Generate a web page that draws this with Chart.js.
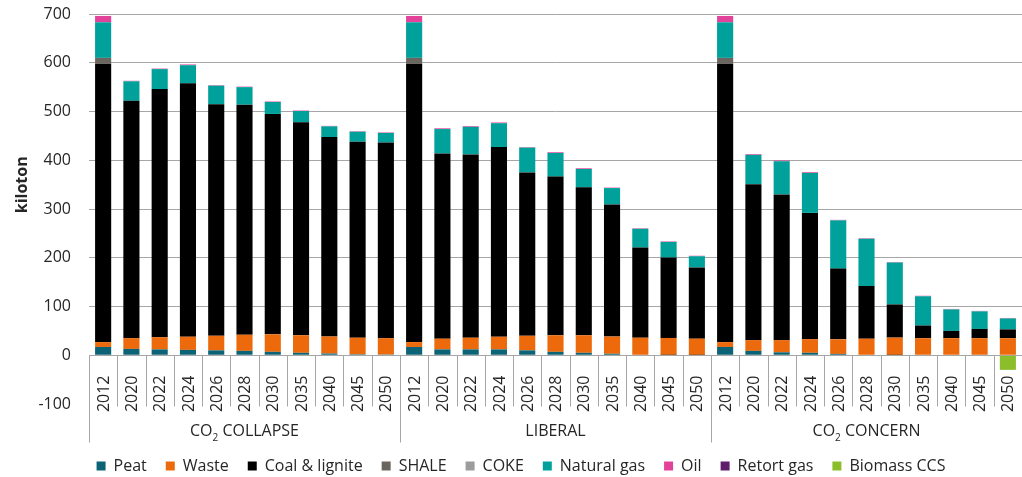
<!DOCTYPE html>
<html>
<head>
<meta charset="utf-8">
<script src="https://cdn.jsdelivr.net/npm/chart.js@4"></script>
<style>
  body { margin: 0; background: #fff; }
  #wrap { width: 1022px; height: 477px; }
</style>
</head>
<body>
<div id="wrap"><canvas id="chart" width="1022" height="477"></canvas></div>
<script>
// Dados
const scenarios = ["CO2 COLLAPSE", "LIBERAL", "CO2 CONCERN"]
const years = ["2012", "2020", "2022", "2024", "2026", "2028", "2030", "2035", "2040", "2045", "2050"]

const peat = [
  17, 13, 12, 11, 10, 9, 7, 5, 3.5, 2, 1.5,
  17, 12, 12, 12, 10, 7, 5, 3, 1, 0.5, 0.5,
  17, 9, 6, 5, 2.7, 1, 0.5, 0, 0, 0, 0,
]
const waste = [
  10, 22, 25, 27, 30, 33, 36, 36, 35, 34, 33.5,
  10, 22, 24, 26, 30, 34, 36, 35.4, 35, 35, 33.6,
  10, 22, 25, 28, 30, 33, 35.7, 35, 35, 35, 35,
]
const coal = [
  571, 487, 509, 520, 475, 472, 452, 437, 409, 402, 401.5,
  571, 380, 376, 389, 335, 325.5, 303.5, 271, 185, 165, 146,
  571, 320, 299, 259, 145, 108, 68, 26, 15, 19, 18,
]
const shale = [
  12, 0, 0, 0, 0, 0, 0, 0, 0, 0, 0,
  12, 0, 0, 0, 0, 0, 0, 0, 0, 0, 0,
  12, 0, 0, 0, 0, 0, 0, 0, 0, 0, 0,
]
const coke = [
  0, 0, 0, 0, 0, 0, 0, 0, 0, 0, 0,
  0, 0, 0, 0, 0, 0, 0, 0, 0, 0, 0,
  0, 0, 0, 0, 0, 0, 0, 0, 0, 0, 0,
]
const naturalGas = [
  73, 40, 41, 37, 38, 36, 24.5, 23, 22, 20.5, 19.5,
  73, 50, 56.5, 49, 51, 48.5, 37.5, 33.5, 38.4, 32, 23,
  73, 60, 68, 82, 99, 97, 86, 60, 44, 36, 22.5,
]
const oil = [
  13, 1, 1, 1.5, 1, 1, 1, 1, 1, 1, 1,
  13, 1.5, 1.5, 1.5, 1, 1.5, 1.5, 1, 1, 1, 1,
  13, 1.5, 1.5, 1.5, 1, 1, 1, 1, 1, 1, 1,
]
const retortGas = [
  0, 0, 0, 0, 0, 0, 0, 0, 0, 0, 0,
  0, 0, 0, 0, 0, 0, 0, 0, 0, 0, 0,
  0, 0, 0, 0, 0, 0, 0, 0, 0, 0, 0,
]
const biomassCCS = [
  0, 0, 0, 0, 0, 0, 0, 0, 0, 0, 0,
  0, 0, 0, 0, 0, 0, 0, 0, 0, 0, 0,
  0, 0, 0, 0, 0, 0, 0, 0, 0, 0, -30,
]
const yTicks = [-100, 0, 100, 200, 300, 400, 500, 600, 700]

const FONT = "'Open Sans', 'Noto Sans', sans-serif"
const TEXT = "#262626"
const GRID = "#a6a6a6"

// Rótulos das categorias: cenário + ano
const labels = []
scenarios.forEach((s) => years.forEach((y) => labels.push(s + " " + y)))

function serie(label, data, color) {
  return { label, data, backgroundColor: color, borderWidth: 0, stack: "s" }
}

// Plugin para desenhar o eixo x em dois níveis (anos + cenários)
const multiAxis = {
  id: "multiAxis",
  afterDraw(chart) {
    const ctx = chart.ctx
    const xs = chart.scales.x
    const ys = chart.scales.y
    const zeroY = Math.round(ys.getPixelForValue(0)) + 0.5
    const n = labels.length
    const step = xs.getPixelForValue(1) - xs.getPixelForValue(0)

    ctx.save()
    ctx.strokeStyle = GRID
    ctx.lineWidth = 1
    for (let i = 0; i <= n; i++) {
      const x = Math.round(xs.getPixelForValue(i) - step / 2) + 0.5
      const isGroup = i % years.length === 0
      ctx.beginPath()
      ctx.moveTo(x, zeroY)
      ctx.lineTo(x, zeroY + (isGroup ? 87 : 51))
      ctx.stroke()
    }

    // anos
    ctx.fillStyle = TEXT
    ctx.font = "16px " + FONT
    ctx.textAlign = "right"
    ctx.textBaseline = "middle"
    for (let i = 0; i < n; i++) {
      const x = xs.getPixelForValue(i)
      ctx.save()
      ctx.translate(x + 1, zeroY + 20)
      ctx.rotate(-Math.PI / 2)
      ctx.fillText(years[i % years.length], 0, 0)
      ctx.restore()
    }

    // cenários (com CO2 subscrito)
    scenarios.forEach((s, g) => {
      const a = xs.getPixelForValue(g * years.length) - step / 2
      const b = xs.getPixelForValue((g + 1) * years.length - 1) + step / 2
      const cx = (a + b) / 2
      const cy = zeroY + 76
      ctx.textAlign = "left"
      ctx.textBaseline = "middle"
      if (s.startsWith("CO2")) {
        const rest = s.slice(3)
        ctx.font = "16px " + FONT
        const w1 = ctx.measureText("CO").width
        const w3 = ctx.measureText(rest).width
        ctx.font = "10px " + FONT
        const w2 = ctx.measureText("2").width
        let x = cx - (w1 + w2 + w3) / 2
        ctx.font = "16px " + FONT
        ctx.fillText("CO", x, cy)
        ctx.font = "10px " + FONT
        ctx.fillText("2", x + w1, cy + 7)
        ctx.font = "16px " + FONT
        ctx.fillText(rest, x + w1 + w2, cy)
      } else {
        ctx.font = "16px " + FONT
        ctx.textAlign = "center"
        ctx.fillText(s, cx, cy)
      }
    })

    // título do eixo y
    const top = ys.getPixelForValue(700)
    ctx.font = "bold 16px " + FONT
    ctx.textAlign = "center"
    ctx.translate(22, (top + zeroY) / 2)
    ctx.rotate(-Math.PI / 2)
    ctx.fillText("kiloton", 0, 0)
    ctx.restore()
  },
}

new Chart(document.getElementById("chart"), {
  type: "bar",
  data: {
    labels,
    datasets: [
      serie("Peat", peat, "#0b6375"),
      serie("Waste", waste, "#ec6a0c"),
      serie("Coal & lignite", coal, "#000000"),
      serie("SHALE", shale, "#6b6560"),
      serie("COKE", coke, "#9c9c9c"),
      serie("Natural gas", naturalGas, "#00a19a"),
      serie("Oil", oil, "#e2429a"),
      serie("Retort gas", retortGas, "#5f1d6b"),
      serie("Biomass CCS", biomassCCS, "#8cbd2b"),
    ],
  },
  options: {
    responsive: false,
    animation: false,
    devicePixelRatio: 1,
    datasets: { bar: { categoryPercentage: 1, barPercentage: 0.57 } },
    layout: { padding: { top: 14, right: 0, left: 20, bottom: -7 } },
    plugins: {
      tooltip: { enabled: false },
      legend: {
        position: "bottom",
        labels: {
          boxWidth: 9,
          boxHeight: 9,
          padding: 19,
          color: TEXT,
          font: { family: FONT, size: 16 },
        },
      },
    },
    scales: {
      x: {
        stacked: true,
        grid: { display: false },
        border: { display: false },
        ticks: { display: false },
        afterFit(scale) { scale.height = 35 },
      },
      y: {
        stacked: true,
        min: -100,
        max: 700,
        afterBuildTicks(scale) { scale.ticks = yTicks.map((v) => ({ value: v })) },
        afterFit(scale) {
          scale.width = 69
          scale.paddingTop = 0
          scale.paddingBottom = 0
        },
        border: { display: false },
        grid: {
          drawTicks: false,
          color: (c) => (c.tick && c.tick.value === -100 ? "rgba(0,0,0,0)" : GRID),
        },
        ticks: {
          padding: 18,
          color: TEXT,
          font: { family: FONT, size: 16 },
        },
      },
    },
  },
  plugins: [multiAxis],
})
</script>
</body>
</html>
